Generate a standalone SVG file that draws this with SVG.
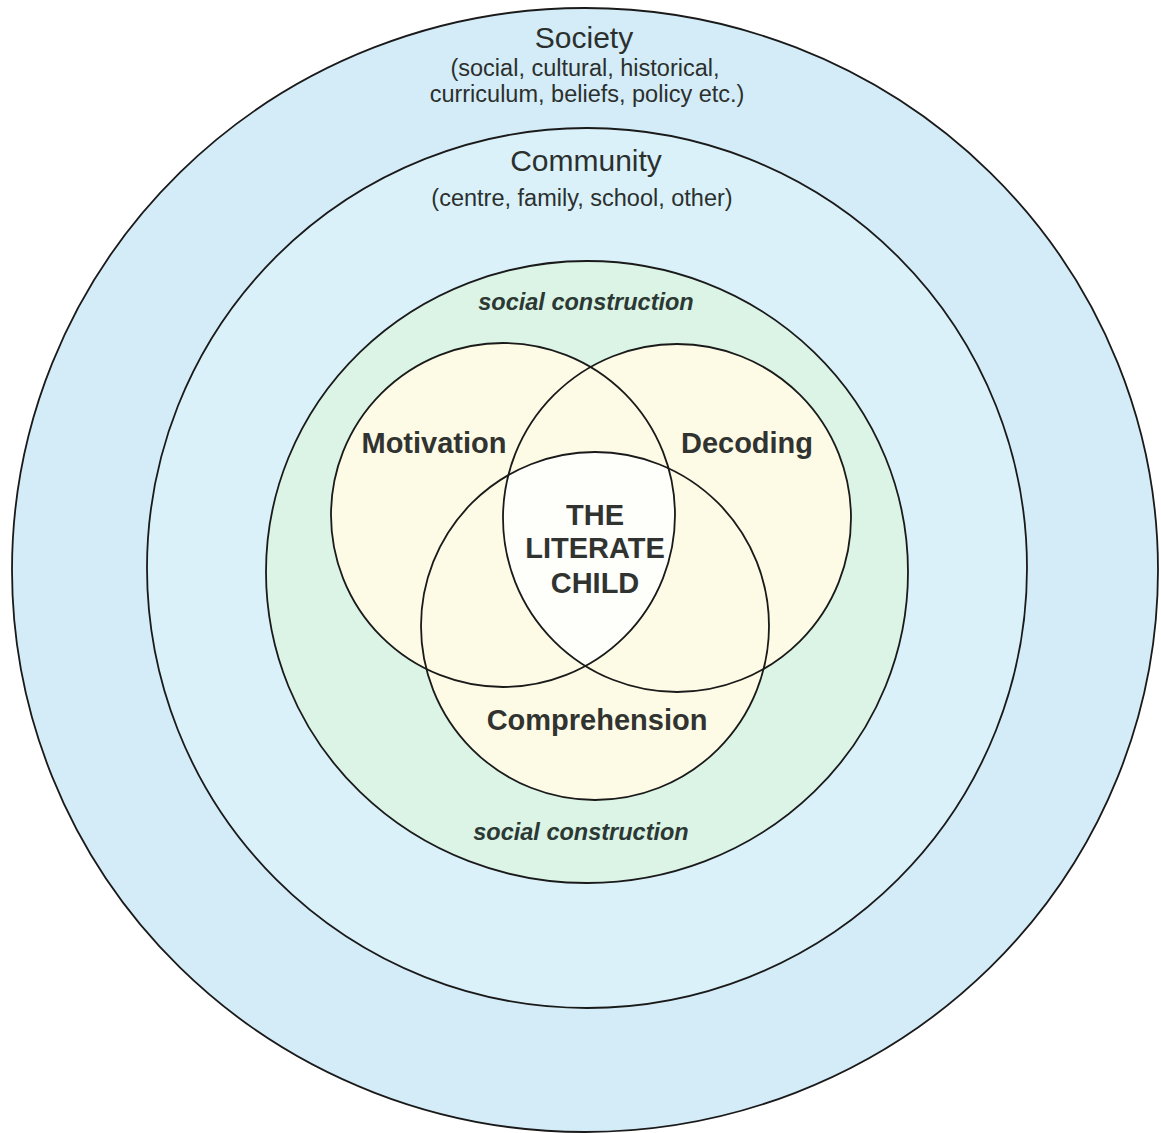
<svg xmlns="http://www.w3.org/2000/svg" width="1161" height="1133" viewBox="0 0 1161 1133">
  <style>
    .ring { stroke: #1a1a1a; stroke-width: 1.8; }
    .line { fill: none; stroke: #1a1a1a; stroke-width: 1.8; }
    .head { font-family: "Liberation Sans", Arial, sans-serif; font-size: 30px; fill: #2b302e; text-anchor: middle; }
    .sub { font-family: "Liberation Sans", Arial, sans-serif; font-size: 23.5px; fill: #2b302e; text-anchor: middle; }
    .ital { font-family: "Liberation Sans", Arial, sans-serif; font-size: 23.5px; font-weight: bold; font-style: italic; fill: #2c3833; text-anchor: middle; }
    .bold { font-family: "Liberation Sans", Arial, sans-serif; font-size: 29px; font-weight: bold; fill: #313331; text-anchor: middle; }
  </style>
  <defs>
    <clipPath id="clipMot"><circle cx="503" cy="515" r="172"/></clipPath>
    <clipPath id="clipDec"><circle cx="677" cy="518" r="174"/></clipPath>
  </defs>
  <rect width="1161" height="1133" fill="#ffffff"/>

  <g id="society">
    <ellipse class="ring" cx="585" cy="570" rx="573" ry="562" fill="#d4ecf7"/>
    <text class="head" x="584" y="48">Society</text>
    <text class="sub" x="585" y="76">(social, cultural, historical,</text>
    <text class="sub" x="587" y="102">curriculum, beliefs, policy etc.)</text>
  </g>

  <g id="community">
    <circle class="ring" cx="587" cy="568" r="440" fill="#daf1fa"/>
    <text class="head" x="586" y="171">Community</text>
    <text class="sub" x="582" y="206">(centre, family, school, other)</text>
  </g>

  <g id="social-construction">
    <ellipse class="ring" cx="587" cy="572" rx="321" ry="311" fill="#dbf4e6"/>
    <text class="ital" x="586" y="310">social construction</text>
    <text class="ital" x="581" y="840">social construction</text>
  </g>

  <g id="venn-fills">
    <circle cx="503" cy="515" r="172" fill="#fdfbe5"/>
    <circle cx="677" cy="518" r="174" fill="#fdfbe5"/>
    <circle cx="595" cy="626" r="174" fill="#fdfbe5"/>
    <g clip-path="url(#clipMot)">
      <g clip-path="url(#clipDec)">
        <circle id="literate-child-area" cx="595" cy="626" r="174" fill="#fefefb"/>
      </g>
    </g>
  </g>

  <g id="motivation">
    <circle class="line" cx="503" cy="515" r="172"/>
    <text class="bold" x="434" y="453">Motivation</text>
  </g>
  <g id="decoding">
    <circle class="line" cx="677" cy="518" r="174"/>
    <text class="bold" x="747" y="453">Decoding</text>
  </g>
  <g id="comprehension">
    <circle class="line" cx="595" cy="626" r="174"/>
    <text class="bold" x="597" y="730">Comprehension</text>
  </g>

  <g id="literate-child">
    <text class="bold" x="595" y="525">THE</text>
    <text class="bold" x="595" y="558">LITERATE</text>
    <text class="bold" x="595" y="593">CHILD</text>
  </g>
</svg>
